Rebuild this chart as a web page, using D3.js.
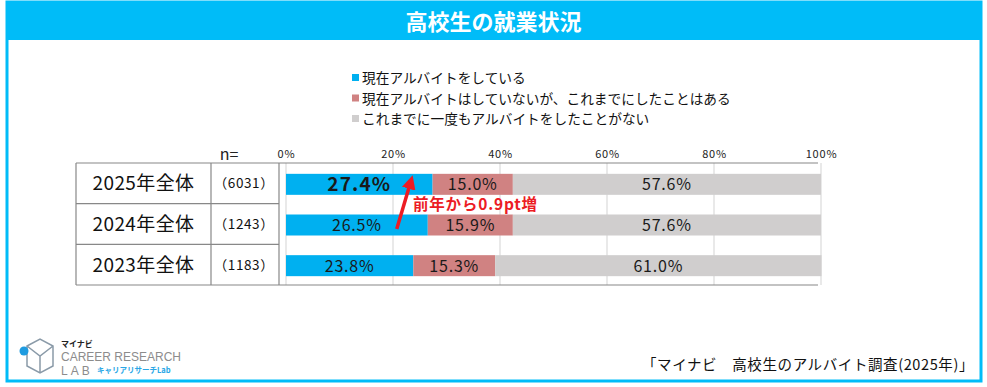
<!DOCTYPE html>
<html>
<head>
<meta charset="utf-8">
<script src="https://cdn.jsdelivr.net/npm/d3@7"></script>
<style>
    body { margin: 0; background: #fff; }
    svg text { font-family: "Noto Sans CJK JP", "Noto Sans", sans-serif; }
</style>
</head>
<body>
<div id="chart"></div>
<script>
// data
const years = ['2025年全体', '2024年全体', '2023年全体'];
const nLabels = ['（6031）', '（1243）', '（1183）'];
const working = [27.4, 26.5, 23.8];
const pastWork = [15.0, 15.9, 15.3];
const neverWork = [57.6, 57.6, 61.0];
const seriesNames = [
    '現在アルバイトをしている',
    '現在アルバイトはしていないが、これまでにしたことはある',
    'これまでに一度もアルバイトをしたことがない'
];
const seriesColors = ['#00b0f0', '#d08282', '#d0cece'];
const tickValues = [0, 20, 40, 60, 80, 100];

const width = 987,
    height = 387,
    blue = '#00bcf8';

const svg = d3.select('#chart').append('svg')
    .attr('width', width)
    .attr('height', height);

// frame + title band
svg.append('rect')
    .attr('x', 7).attr('y', 2)
    .attr('width', 974).attr('height', 379)
    .attr('fill', 'none')
    .attr('stroke', blue)
    .attr('stroke-width', 3);

svg.append('rect')
    .attr('x', 6).attr('y', 1)
    .attr('width', 976).attr('height', 39)
    .attr('fill', blue);

svg.append('text')
    .attr('x', width / 2).attr('y', 30)
    .attr('text-anchor', 'middle')
    .attr('fill', '#fff')
    .attr('font-size', 22)
    .attr('font-weight', 'bold')
    .text('高校生の就業状況');

// legend
const legend = svg.append('g')
    .attr('transform', 'translate(352, 78)');

seriesNames.forEach((name, i) => {
    const row = legend.append('g').attr('transform', 'translate(0,' + i * 20.5 + ')');
    row.append('rect')
        .attr('x', 0).attr('y', -4)
        .attr('width', 7).attr('height', 7)
        .attr('fill', seriesColors[i]);
    row.append('text')
        .attr('x', 10).attr('y', 5)
        .attr('font-size', 13.7)
        .attr('fill', '#111')
        .text(name);
});

// scales
const x = d3.scaleLinear()
    .domain([0, 100])
    .range([286, 821]);

const y = d3.scaleBand()
    .domain(years)
    .range([163, 285]);

const tableLeft = 76,
    colSplit = 211,
    tableRight = 279,
    barHeight = 21;

// gridlines
svg.append('g')
    .selectAll('line')
    .data(tickValues)
    .join('line')
    .attr('x1', d => x(d)).attr('x2', d => x(d))
    .attr('y1', 163).attr('y2', 285)
    .attr('stroke', '#e2e2e2')
    .attr('stroke-width', 1.5);

// axis labels
const axis = d3.axisTop(x)
    .tickValues(tickValues)
    .tickSize(0)
    .tickPadding(0)
    .tickFormat(d => d + '%');

const axisG = svg.append('g')
    .attr('transform', 'translate(0, 158)')
    .call(axis);
axisG.select('.domain').remove();
axisG.selectAll('text')
    .attr('font-size', 11)
    .attr('letter-spacing', 0.8)
    .attr('fill', '#222')
    .style('font-family', '"Noto Sans CJK JP", sans-serif');

svg.append('text')
    .attr('x', 229).attr('y', 160)
    .attr('text-anchor', 'middle')
    .attr('font-size', 16)
    .attr('fill', '#222')
    .text('n=');

// bars
const stackData = years.map((yr, i) => ({
    year: yr,
    values: [working[i], pastWork[i], neverWork[i]]
}));

stackData.forEach((row, i) => {
    const yc = y(row.year) + y.bandwidth() / 2;
    let start = 0;
    row.values.forEach((v, j) => {
        const big = i === 0 && j === 0;
        svg.append('rect')
            .attr('x', x(start))
            .attr('y', yc - barHeight / 2 + 1)
            .attr('width', x(start + v) - x(start))
            .attr('height', barHeight)
            .attr('fill', seriesColors[j]);

        svg.append('text')
            .attr('x', (x(start) + x(start + v)) / 2)
            .attr('y', yc + 1 + (big ? 7 : 6))
            .attr('text-anchor', 'middle')
            .attr('font-size', big ? 19 : 16)
            .attr('letter-spacing', big ? 1.2 : 0.8)
            .attr('font-weight', big ? 'bold' : 'normal')
            .attr('fill', '#1a1a1a')
            .text(v.toFixed(1) + '%');
        start += v;
    });
});

// table
const table = svg.append('g')
    .attr('stroke', '#888')
    .attr('stroke-width', 1.2);

table.append('line')
    .attr('x1', tableLeft).attr('x2', 818)
    .attr('y1', 163).attr('y2', 163);
table.append('line')
    .attr('x1', tableLeft).attr('x2', 818)
    .attr('y1', 285).attr('y2', 285);
years.slice(1).forEach(yr => {
    table.append('line')
        .attr('x1', tableLeft).attr('x2', tableRight)
        .attr('y1', y(yr)).attr('y2', y(yr));
});
[tableLeft, colSplit, tableRight].forEach(xx => {
    table.append('line')
        .attr('x1', xx).attr('x2', xx)
        .attr('y1', 163).attr('y2', 285);
});

years.forEach((yr, i) => {
    const yc = y(yr) + y.bandwidth() / 2;
    svg.append('text')
        .attr('x', (tableLeft + colSplit) / 2)
        .attr('y', yc + 7)
        .attr('text-anchor', 'middle')
        .attr('font-size', 19)
        .attr('letter-spacing', 0.4)
        .attr('fill', '#111')
        .text(yr);
    svg.append('text')
        .attr('x', (colSplit + tableRight) / 2 - 1)
        .attr('y', yc + 5)
        .attr('text-anchor', 'middle')
        .attr('font-size', 13.5)
        .attr('letter-spacing', 0.6)
        .attr('fill', '#111')
        .text(nLabels[i]);
});

// annotation arrow
const red = '#ec1c24';
svg.append('defs').append('marker')
    .attr('id', 'head')
    .attr('viewBox', '0 0 10 10')
    .attr('refX', 5).attr('refY', 5)
    .attr('markerWidth', 4).attr('markerHeight', 4)
    .attr('orient', 'auto')
    .append('path')
    .attr('d', 'M0,0L10,5L0,10z')
    .attr('fill', red);

svg.append('line')
    .attr('x1', x(20.7)).attr('y1', 229)
    .attr('x2', x(23.3)).attr('y2', 182)
    .attr('stroke', red)
    .attr('stroke-width', 3.5)
    .attr('marker-end', 'url(#head)');

svg.append('text')
    .attr('x', 413).attr('y', 210)
    .attr('font-size', 15.5)
    .attr('letter-spacing', 0.8)
    .attr('font-weight', 'bold')
    .attr('fill', red)
    .text('前年から0.9pt増');

// footer
svg.append('text')
    .attr('x', 974).attr('y', 370)
    .attr('text-anchor', 'end')
    .attr('font-size', 14.5)
    .attr('letter-spacing', 0.6)
    .attr('fill', '#111')
    .text('「マイナビ　高校生のアルバイト調査(2025年)」');

// logo
const logo = svg.append('g');
logo.append('path')
    .attr('d', 'M27,346 L40,339 L53,346 L53,366 L40,373 L27,366 Z M27,346 L40,356 L53,346 M40,356 L40,373')
    .attr('fill', 'none')
    .attr('stroke', '#8a9aa8')
    .attr('stroke-width', 1.5);
logo.append('circle')
    .attr('cx', 24).attr('cy', 351).attr('r', 4.5)
    .attr('fill', '#1e9be0');
logo.append('text')
    .attr('x', 61).attr('y', 347)
    .attr('font-size', 8).attr('font-weight', 'bold').attr('fill', '#222')
    .text('マイナビ');
logo.append('text')
    .attr('x', 61).attr('y', 361)
    .attr('font-size', 12).attr('fill', '#8c8c8c')
    .style('font-family', '"Liberation Sans", sans-serif')
    .text('CAREER RESEARCH');
logo.append('text')
    .attr('x', 61).attr('y', 375)
    .attr('font-size', 12).attr('fill', '#8c8c8c')
    .attr('letter-spacing', 3)
    .style('font-family', '"Liberation Sans", sans-serif')
    .text('LAB');
logo.append('text')
    .attr('x', 97).attr('y', 373)
    .attr('font-size', 7.5).attr('font-weight', 'bold').attr('fill', '#2aa7e6')
    .text('キャリアリサーチLab');
</script>
</body>
</html>
